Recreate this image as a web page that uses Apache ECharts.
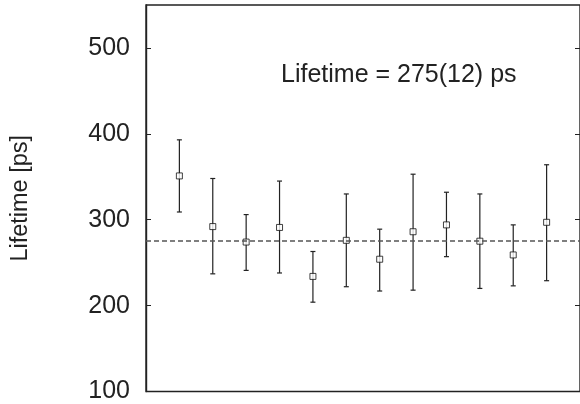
<!DOCTYPE html>
<html>
<head>
<meta charset="utf-8">
<script src="https://cdn.jsdelivr.net/npm/echarts@6/dist/echarts.min.js"></script>
<style>
html,body{margin:0;padding:0;background:#fff;}
#chart{width:580px;height:404px;}
</style>
</head>
<body>
<div id="chart"></div>
<script>
var runIndex = [1,2,3,4,5,6,7,8,9,10,11,12];
var lifetime = [351,292,274,291,234,276,254,286,294,275,259,297];
var errLow  = [309,237,241,238,204,222,217,218,257,220,223,229];
var errHigh = [393,348,306,345,263,330,289,353,332,330,294,364];
var meanLifetime = 275;
var yTicks = [100,200,300,400,500];
var annotation = 'Lifetime = 275(12) ps';

var pts = runIndex.map(function(x,i){return [x, lifetime[i]];});
var bars = runIndex.map(function(x,i){return [x, errLow[i], errHigh[i]];});

var chart = echarts.init(document.getElementById('chart'), null, {renderer:'canvas'});
var font = 'Liberation Sans, Arial, Helvetica, sans-serif';
chart.setOption({
  animation:false,
  backgroundColor:'#fff',
  grid:{left:146,right:-2,top:5,bottom:12,show:true,borderColor:'#222',borderWidth:1.4,backgroundColor:'transparent'},
  xAxis:{type:'value',min:0,max:13,show:true,axisLine:{show:false},axisTick:{show:false},axisLabel:{show:false},splitLine:{show:false}},
  yAxis:[{
    type:'value',min:100,max:550,interval:100,position:'left',
    name:'Lifetime [ps]',nameLocation:'middle',nameGap:113,nameRotate:90,
    nameTextStyle:{fontFamily:font,fontSize:23.5,color:'#222'},
    axisLine:{show:true,lineStyle:{color:'#222',width:1.4}},
    axisTick:{show:true,inside:true,length:5,lineStyle:{color:'#222'},customValues:yTicks},
    axisLabel:{fontFamily:font,fontSize:25,color:'#222',margin:16,customValues:yTicks},
    splitLine:{show:false}
  },{
    type:'value',min:100,max:550,interval:100,position:'right',
    axisLine:{show:false},
    axisTick:{show:true,inside:true,length:5,lineStyle:{color:'#222'},customValues:yTicks},
    axisLabel:{show:false},splitLine:{show:false}
  }],
  graphic:[{type:'text',left:281,top:63,style:{text:annotation,fontFamily:font,fontSize:25,fill:'#222'}}],
  series:[{
    type:'custom',
    data:bars,
    renderItem:function(params,api){
      var x=api.value(0);
      var lo=api.coord([x,api.value(1)]);
      var hi=api.coord([x,api.value(2)]);
      var c=2.5;
      var st={stroke:'#222',lineWidth:1.2};
      return {type:'group',children:[
        {type:'line',shape:{x1:lo[0],y1:lo[1],x2:hi[0],y2:hi[1]},style:st},
        {type:'line',shape:{x1:lo[0]-c,y1:lo[1],x2:lo[0]+c,y2:lo[1]},style:st},
        {type:'line',shape:{x1:hi[0]-c,y1:hi[1],x2:hi[0]+c,y2:hi[1]},style:st}
      ]};
    },
    z:2,
    markLine:{silent:true,symbol:'none',label:{show:false},
      lineStyle:{color:'#555',type:[5,3],width:1.5},
      data:[{yAxis:meanLifetime}]}
  },{
    type:'scatter',data:pts,symbol:'rect',symbolSize:6,
    itemStyle:{color:'#fff',borderColor:'#111',borderWidth:1},z:3
  }]
});
</script>
</body>
</html>
